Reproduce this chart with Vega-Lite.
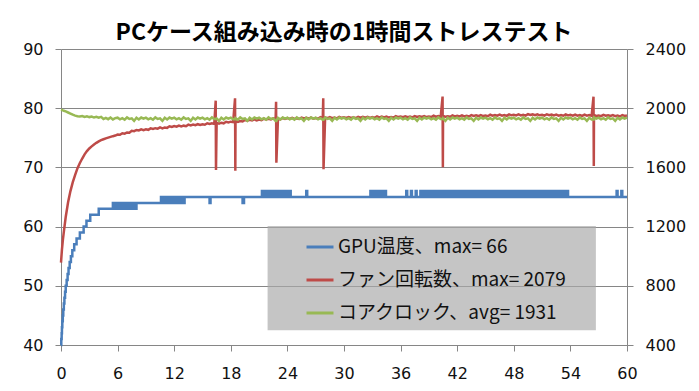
{
  "$schema": "https://vega.github.io/schema/vega-lite/v6.json",
  "width": 566,
  "height": 296,
  "autosize": {"type": "none"},
  "padding": {"left": 61, "top": 49, "right": 72, "bottom": 46},
  "background": "white",
  "title": {"text": "PCケース組み込み時の1時間ストレステスト", "font": "Noto Sans CJK JP", "fontSize": 23, "fontWeight": "bold", "color": "#000000", "anchor": "middle", "frame": "group", "offset": -4},
  "config": {
    "view": {"stroke": null},
    "axis": {"domainColor": "#868686", "tickColor": "#868686", "tickSize": 6, "labelFont": "DejaVu Sans", "labelFontSize": 16, "labelColor": "#111111", "gridColor": "#868686", "gridWidth": 1}
  },
  "datasets": {
    "blue": [
      {"t":0,"g":40},{"t":0.03,"g":41},{"t":0.07,"g":42},{"t":0.1,"g":43},{"t":0.14,"g":44},{"t":0.19,"g":45},{"t":0.24,"g":46},{"t":0.3,"g":47},
      {"t":0.36,"g":48},{"t":0.43,"g":49},{"t":0.5,"g":50},{"t":0.6,"g":51},{"t":0.7,"g":52},{"t":0.8,"g":53},{"t":0.92,"g":54},{"t":1.05,"g":55},
      {"t":1.2,"g":56},{"t":1.4,"g":57},{"t":1.65,"g":58},{"t":2.0,"g":59},{"t":2.4,"g":60},{"t":2.7,"g":61},{"t":3.1,"g":62},{"t":4.0,"g":63},
      {"t":5.5,"g":64},{"t":5.75,"g":63},{"t":6,"g":64},{"t":6.25,"g":63},{"t":6.5,"g":64},{"t":6.75,"g":63},{"t":7,"g":64},{"t":7.25,"g":63},
      {"t":7.5,"g":64},{"t":7.75,"g":63},{"t":8,"g":64},
      {"t":10.6,"g":65},{"t":10.85,"g":64},{"t":11.1,"g":65},{"t":11.35,"g":64},{"t":11.6,"g":65},{"t":11.85,"g":64},{"t":12.1,"g":65},{"t":12.35,"g":64},
      {"t":12.6,"g":65},{"t":12.85,"g":64},{"t":13.1,"g":65},
      {"t":15.75,"g":64},{"t":15.85,"g":65},{"t":19.25,"g":64},{"t":19.4,"g":65},
      {"t":21.3,"g":66},{"t":21.55,"g":65},{"t":21.8,"g":66},{"t":22.05,"g":65},{"t":22.3,"g":66},{"t":22.55,"g":65},{"t":22.8,"g":66},{"t":23.05,"g":65},
      {"t":23.3,"g":66},{"t":23.55,"g":65},{"t":23.8,"g":66},{"t":24.05,"g":65},{"t":24.2,"g":66},{"t":24.35,"g":65},
      {"t":26,"g":66},{"t":26.1,"g":65},
      {"t":32.8,"g":66},{"t":33.05,"g":65},{"t":33.3,"g":66},{"t":33.55,"g":65},{"t":33.7,"g":66},{"t":33.95,"g":65},{"t":34.2,"g":66},{"t":34.45,"g":65},
      {"t":36.6,"g":66},{"t":36.7,"g":65},{"t":37.1,"g":66},{"t":37.2,"g":65},{"t":37.6,"g":66},{"t":37.7,"g":65},{"t":38.1,"g":66},{"t":38.2,"g":65},
      {"t":38.45,"g":66},{"t":38.6,"g":65},{"t":38.75,"g":66},{"t":38.9,"g":65},{"t":39.05,"g":66},{"t":39.2,"g":65},{"t":39.3,"g":66},{"t":39.4,"g":65},
      {"t":39.65,"g":66},{"t":39.75,"g":65},
      {"t":40,"g":66},{"t":40.25,"g":65},{"t":40.5,"g":66},{"t":40.75,"g":65},{"t":41,"g":66},{"t":41.25,"g":65},{"t":41.5,"g":66},{"t":41.75,"g":65},
      {"t":42,"g":66},{"t":42.25,"g":65},{"t":42.5,"g":66},{"t":42.75,"g":65},{"t":43,"g":66},{"t":43.25,"g":65},{"t":43.5,"g":66},{"t":43.75,"g":65},
      {"t":44,"g":66},{"t":44.25,"g":65},{"t":44.5,"g":66},{"t":44.75,"g":65},{"t":45,"g":66},{"t":45.25,"g":65},{"t":45.5,"g":66},{"t":45.75,"g":65},
      {"t":46,"g":66},{"t":46.25,"g":65},{"t":46.5,"g":66},{"t":46.75,"g":65},{"t":47,"g":66},{"t":47.25,"g":65},{"t":47.5,"g":66},{"t":47.75,"g":65},
      {"t":48,"g":66},{"t":48.25,"g":65},{"t":48.5,"g":66},{"t":48.75,"g":65},{"t":49,"g":66},{"t":49.25,"g":65},{"t":49.5,"g":66},{"t":49.75,"g":65},
      {"t":50,"g":66},{"t":50.25,"g":65},{"t":50.5,"g":66},{"t":50.75,"g":65},{"t":51,"g":66},{"t":51.25,"g":65},{"t":51.5,"g":66},{"t":51.75,"g":65},
      {"t":52,"g":66},{"t":52.25,"g":65},{"t":52.5,"g":66},{"t":52.75,"g":65},{"t":53,"g":66},{"t":53.25,"g":65},{"t":53.5,"g":66},{"t":53.75,"g":65},
      {"t":58.9,"g":66},{"t":59,"g":65},{"t":59.4,"g":66},{"t":59.5,"g":65},{"t":60,"g":65}
    ],
    "rg": [
      {"t":0,"f":956,"c":1990},{"t":0.1,"f":1045,"c":1988},{"t":0.2,"f":1110,"c":1985},{"t":0.3,"f":1165,"c":1983},
      {"t":0.5,"f":1265,"c":1978},{"t":0.75,"f":1365,"c":1971},{"t":1,"f":1440,"c":1964},{"t":1.25,"f":1500,"c":1956},
      {"t":1.5,"f":1550,"c":1950},{"t":1.75,"f":1595,"c":1946},{"t":2,"f":1630,"c":1944},{"t":2.25,"f":1660,"c":1947},
      {"t":2.5,"f":1688,"c":1941},{"t":2.75,"f":1710,"c":1945},{"t":3,"f":1728,"c":1940},{"t":3.25,"f":1742,"c":1944},
      {"t":3.5,"f":1755,"c":1937},{"t":3.75,"f":1766,"c":1942},{"t":4,"f":1776,"c":1936},{"t":4.25,"f":1784,"c":1941},
      {"t":4.5,"f":1790,"c":1927},{"t":4.75,"f":1796,"c":1935},{"t":5,"f":1801,"c":1926},{"t":5.25,"f":1806,"c":1937},
      {"t":5.5,"f":1811,"c":1924},{"t":5.75,"f":1815,"c":1933},
      {"t":6,"f":1822,"c":1936},{"t":6.25,"f":1821,"c":1925},{"t":6.5,"f":1831,"c":1933},{"t":6.75,"f":1828,"c":1922},
      {"t":7,"f":1836,"c":1938},{"t":7.25,"f":1834,"c":1927},{"t":7.5,"f":1847,"c":1931},{"t":7.75,"f":1845,"c":1914},
      {"t":8,"f":1853,"c":1935},{"t":8.25,"f":1850,"c":1924},{"t":8.5,"f":1857,"c":1937},{"t":8.75,"f":1852,"c":1929},
      {"t":9,"f":1857,"c":1936},{"t":9.25,"f":1854,"c":1925},{"t":9.5,"f":1864,"c":1933},{"t":9.75,"f":1860,"c":1922},
      {"t":10,"f":1865,"c":1938},{"t":10.25,"f":1862,"c":1927},{"t":10.5,"f":1870,"c":1931},{"t":10.75,"f":1864,"c":1914},
      {"t":11,"f":1870,"c":1935},{"t":11.25,"f":1867,"c":1924},{"t":11.5,"f":1878,"c":1937},{"t":11.75,"f":1873,"c":1929},
      {"t":12,"f":1879,"c":1936},{"t":12.25,"f":1875,"c":1925},{"t":12.5,"f":1883,"c":1933},{"t":12.75,"f":1877,"c":1922},
      {"t":13,"f":1882,"c":1938},{"t":13.25,"f":1878,"c":1927},{"t":13.5,"f":1889,"c":1931},{"t":13.75,"f":1884,"c":1914},
      {"t":14,"f":1889,"c":1935},{"t":14.25,"f":1885,"c":1924},{"t":14.5,"f":1892,"c":1937},{"t":14.75,"f":1887,"c":1929},
      {"t":15,"f":1892,"c":1936},{"t":15.25,"f":1888,"c":1925},{"t":15.5,"f":1898,"c":1933},{"t":15.75,"f":1893,"c":1922},
      {"t":16,"f":1898,"c":1938},{"t":16.25,"f":1894,"c":1927},{"t":16.4,"f":2051,"c":1927},{"t":16.43,"f":1582,"c":1927},
      {"t":16.5,"f":1902,"c":1931},{"t":16.75,"f":1896,"c":1914},{"t":17,"f":1902,"c":1935},{"t":17.25,"f":1898,"c":1924},
      {"t":17.5,"f":1908,"c":1937},{"t":17.75,"f":1904,"c":1929},{"t":18,"f":1909,"c":1936},{"t":18.25,"f":1906,"c":1925},
      {"t":18.45,"f":2067,"c":1925},{"t":18.48,"f":1578,"c":1925},
      {"t":18.5,"f":1913,"c":1933},{"t":18.75,"f":1908,"c":1922},{"t":19,"f":1913,"c":1938},{"t":19.25,"f":1910,"c":1927},
      {"t":19.5,"f":1920,"c":1931},{"t":19.75,"f":1916,"c":1914},{"t":20,"f":1921,"c":1935},{"t":20.25,"f":1917,"c":1924},
      {"t":20.5,"f":1924,"c":1937},{"t":20.75,"f":1918,"c":1929},{"t":21,"f":1923,"c":1936},{"t":21.25,"f":1919,"c":1925},
      {"t":21.5,"f":1929,"c":1933},{"t":21.75,"f":1924,"c":1922},{"t":22,"f":1929,"c":1938},{"t":22.25,"f":1924,"c":1927},
      {"t":22.5,"f":1931,"c":1931},{"t":22.75,"f":1924,"c":1914},{"t":22.8,"f":2044,"c":1914},{"t":22.83,"f":1632,"c":1914},
      {"t":23,"f":1929,"c":1935},{"t":23.25,"f":1924,"c":1924},{"t":23.5,"f":1934,"c":1937},{"t":23.75,"f":1928,"c":1929},
      {"t":24,"f":1933,"c":1936},{"t":24.25,"f":1928,"c":1925},{"t":24.5,"f":1935,"c":1933},{"t":24.75,"f":1928,"c":1922},
      {"t":25,"f":1932,"c":1938},{"t":25.25,"f":1927,"c":1927},{"t":25.5,"f":1937,"c":1931},{"t":25.75,"f":1931,"c":1914},
      {"t":26,"f":1935,"c":1935},{"t":26.25,"f":1930,"c":1924},{"t":26.5,"f":1937,"c":1937},{"t":26.75,"f":1930,"c":1929},
      {"t":27,"f":1934,"c":1936},{"t":27.25,"f":1929,"c":1925},{"t":27.5,"f":1939,"c":1933},{"t":27.75,"f":1933,"c":1922},
      {"t":27.8,"f":2067,"c":1922},{"t":27.83,"f":1587,"c":1922},
      {"t":28,"f":1937,"c":1938},{"t":28.25,"f":1932,"c":1927},{"t":28.5,"f":1939,"c":1931},{"t":28.75,"f":1932,"c":1914},
      {"t":29,"f":1936,"c":1935},{"t":29.25,"f":1931,"c":1924},{"t":29.5,"f":1941,"c":1937},{"t":29.75,"f":1935,"c":1929},
      {"t":30,"f":1939,"c":1936},{"t":30.25,"f":1934,"c":1925},{"t":30.5,"f":1940,"c":1933},{"t":30.75,"f":1934,"c":1922},
      {"t":31,"f":1938,"c":1938},{"t":31.25,"f":1933,"c":1927},{"t":31.5,"f":1942,"c":1931},{"t":31.75,"f":1936,"c":1914},
      {"t":32,"f":1941,"c":1935},{"t":32.25,"f":1936,"c":1924},{"t":32.5,"f":1942,"c":1937},{"t":32.75,"f":1935,"c":1929},
      {"t":33,"f":1940,"c":1936},{"t":33.25,"f":1935,"c":1925},{"t":33.5,"f":1944,"c":1933},{"t":33.75,"f":1938,"c":1922},
      {"t":34,"f":1943,"c":1938},{"t":34.25,"f":1938,"c":1927},{"t":34.5,"f":1944,"c":1931},{"t":34.75,"f":1937,"c":1914},
      {"t":35,"f":1941,"c":1935},{"t":35.25,"f":1936,"c":1924},{"t":35.5,"f":1946,"c":1937},{"t":35.75,"f":1940,"c":1929},
      {"t":36,"f":1944,"c":1936},{"t":36.25,"f":1939,"c":1925},{"t":36.5,"f":1945,"c":1933},{"t":36.75,"f":1939,"c":1922},
      {"t":37,"f":1943,"c":1938},{"t":37.25,"f":1938,"c":1927},{"t":37.5,"f":1947,"c":1931},{"t":37.75,"f":1941,"c":1914},
      {"t":38,"f":1946,"c":1935},{"t":38.25,"f":1941,"c":1924},{"t":38.5,"f":1947,"c":1937},{"t":38.75,"f":1940,"c":1929},
      {"t":39,"f":1944,"c":1936},{"t":39.25,"f":1940,"c":1925},{"t":39.5,"f":1949,"c":1933},{"t":39.75,"f":1943,"c":1922},
      {"t":40,"f":1947,"c":1938},{"t":40.25,"f":1942,"c":1927},{"t":40.45,"f":2079,"c":1927},{"t":40.48,"f":1601,"c":1927},
      {"t":40.5,"f":1949,"c":1931},{"t":40.75,"f":1942,"c":1914},{"t":41,"f":1946,"c":1935},{"t":41.25,"f":1942,"c":1924},
      {"t":41.5,"f":1951,"c":1937},{"t":41.75,"f":1945,"c":1929},{"t":42,"f":1949,"c":1936},{"t":42.25,"f":1945,"c":1925},
      {"t":42.5,"f":1951,"c":1933},{"t":42.75,"f":1944,"c":1922},{"t":43,"f":1949,"c":1938},{"t":43.25,"f":1944,"c":1927},
      {"t":43.5,"f":1953,"c":1931},{"t":43.75,"f":1948,"c":1914},{"t":44,"f":1952,"c":1935},{"t":44.25,"f":1947,"c":1924},
      {"t":44.5,"f":1954,"c":1937},{"t":44.75,"f":1947,"c":1929},{"t":45,"f":1951,"c":1936},{"t":45.25,"f":1946,"c":1925},
      {"t":45.5,"f":1956,"c":1933},{"t":45.75,"f":1950,"c":1922},{"t":46,"f":1954,"c":1938},{"t":46.25,"f":1949,"c":1927},
      {"t":46.5,"f":1956,"c":1931},{"t":46.75,"f":1949,"c":1914},{"t":47,"f":1953,"c":1935},{"t":47.25,"f":1948,"c":1924},
      {"t":47.5,"f":1958,"c":1937},{"t":47.75,"f":1952,"c":1929},{"t":48,"f":1956,"c":1936},{"t":48.25,"f":1951,"c":1925},
      {"t":48.5,"f":1958,"c":1933},{"t":48.75,"f":1951,"c":1922},{"t":49,"f":1955,"c":1938},{"t":49.25,"f":1950,"c":1927},
      {"t":49.5,"f":1960,"c":1931},{"t":49.75,"f":1954,"c":1914},{"t":50,"f":1958,"c":1935},{"t":50.25,"f":1953,"c":1924},
      {"t":50.5,"f":1959,"c":1937},{"t":50.75,"f":1952,"c":1929},{"t":51,"f":1956,"c":1936},{"t":51.25,"f":1950,"c":1925},
      {"t":51.5,"f":1959,"c":1933},{"t":51.75,"f":1953,"c":1922},{"t":52,"f":1957,"c":1938},{"t":52.25,"f":1951,"c":1927},
      {"t":52.5,"f":1957,"c":1931},{"t":52.75,"f":1950,"c":1914},{"t":53,"f":1954,"c":1935},{"t":53.25,"f":1949,"c":1924},
      {"t":53.5,"f":1958,"c":1937},{"t":53.75,"f":1951,"c":1929},{"t":54,"f":1955,"c":1936},{"t":54.25,"f":1950,"c":1925},
      {"t":54.5,"f":1956,"c":1933},{"t":54.75,"f":1949,"c":1922},{"t":55,"f":1953,"c":1938},{"t":55.25,"f":1948,"c":1927},
      {"t":55.5,"f":1957,"c":1931},{"t":55.75,"f":1950,"c":1914},{"t":56,"f":1954,"c":1935},{"t":56.25,"f":1949,"c":1924},
      {"t":56.45,"f":2078,"c":1924},{"t":56.48,"f":1609,"c":1924},
      {"t":56.5,"f":1955,"c":1937},{"t":56.75,"f":1947,"c":1929},{"t":57,"f":1951,"c":1936},{"t":57.25,"f":1946,"c":1925},
      {"t":57.5,"f":1955,"c":1933},{"t":57.75,"f":1949,"c":1922},{"t":58,"f":1952,"c":1938},{"t":58.25,"f":1947,"c":1927},
      {"t":58.5,"f":1953,"c":1931},{"t":58.75,"f":1946,"c":1914},{"t":59,"f":1950,"c":1935},{"t":59.25,"f":1944,"c":1924},
      {"t":59.5,"f":1953,"c":1937},{"t":59.75,"f":1947,"c":1929},{"t":60,"f":1951,"c":1936}
    ]
  },
  "data": {"name": "rg"},
  "layer": [
    {
      "data": {"values": [{"box": 1}]},
      "mark": {"type": "rect", "color": "#a9a9a9", "opacity": 0.68},
      "encoding": {
        "x": {"datum": 21.9, "type": "quantitative", "scale": {"domain": [0, 60], "nice": false},
              "axis": {"values": [0, 6, 12, 18, 24, 30, 36, 42, 48, 54, 60], "title": null, "grid": false, "labelPadding": 14, "labelFlush": false}},
        "x2": {"datum": 56.7},
        "y": {"datum": 60.1, "type": "quantitative", "scale": {"domain": [40, 90], "nice": false}, "axis": null},
        "y2": {"datum": 42.5}
      }
    },
    {
      "data": {"name": "blue"},
      "transform": [{"fold": ["g"], "as": ["k", "v"]}],
      "mark": {"type": "line", "strokeWidth": 2.5, "interpolate": "step-after"},
      "encoding": {
        "x": {"field": "t", "type": "quantitative", "scale": {"domain": [0, 60], "nice": false},
              "axis": {"values": [0, 6, 12, 18, 24, 30, 36, 42, 48, 54, 60], "title": null, "grid": false, "labelPadding": 14, "labelFlush": false}},
        "y": {"field": "v", "type": "quantitative", "scale": {"domain": [40, 90], "nice": false},
              "axis": {"orient": "left", "values": [40, 50, 60, 70, 80, 90], "title": null, "grid": true, "labelPadding": 12}},
        "color": {"field": "k", "type": "nominal", "scale": {"domain": ["g", "f", "c"], "range": ["#4a7ebb", "#be4b48", "#98b954"]},
                  "legend": {"orient": "none", "legendX": 244, "legendY": 183, "title": null, "symbolType": "stroke", "symbolSize": 729, "symbolStrokeWidth": 3, "labelFont": "Noto Sans CJK JP", "labelFontSize": 19, "labelColor": "#111111", "labelOffset": 3, "rowPadding": 8, "padding": 0, "labelLimit": 400,
                             "labelExpr": "datum.value == 'g' ? 'GPU温度、max= 66' : datum.value == 'f' ? 'ファン回転数、max= 2079' : 'コアクロック、avg= 1931'"}}
      }
    },
    {
      "layer": [
        {
          "transform": [{"fold": ["f"], "as": ["k", "v"]}],
          "mark": {"type": "line", "strokeWidth": 2.5},
          "encoding": {
            "x": {"field": "t", "type": "quantitative", "scale": {"domain": [0, 60], "nice": false},
                  "axis": {"values": [0, 6, 12, 18, 24, 30, 36, 42, 48, 54, 60], "title": null, "grid": false, "labelPadding": 14, "labelFlush": false}},
            "y": {"field": "v", "type": "quantitative", "scale": {"domain": [400, 2400], "nice": false},
                  "axis": {"orient": "right", "values": [400, 800, 1200, 1600, 2000, 2400], "format": "d", "title": null, "grid": false, "labelPadding": 12}},
            "color": {"field": "k", "type": "nominal"}
          }
        },
        {
          "transform": [{"fold": ["c"], "as": ["k", "v"]}],
          "mark": {"type": "line", "strokeWidth": 2.5},
          "encoding": {
            "x": {"field": "t", "type": "quantitative", "scale": {"domain": [0, 60], "nice": false},
                  "axis": {"values": [0, 6, 12, 18, 24, 30, 36, 42, 48, 54, 60], "title": null, "grid": false, "labelPadding": 14, "labelFlush": false}},
            "y": {"field": "v", "type": "quantitative", "scale": {"domain": [400, 2400], "nice": false},
                  "axis": {"orient": "right", "values": [400, 800, 1200, 1600, 2000, 2400], "format": "d", "title": null, "grid": false, "labelPadding": 12}},
            "color": {"field": "k", "type": "nominal"}
          }
        }
      ]
    }
  ],
  "resolve": {"scale": {"y": "independent"}}
}
